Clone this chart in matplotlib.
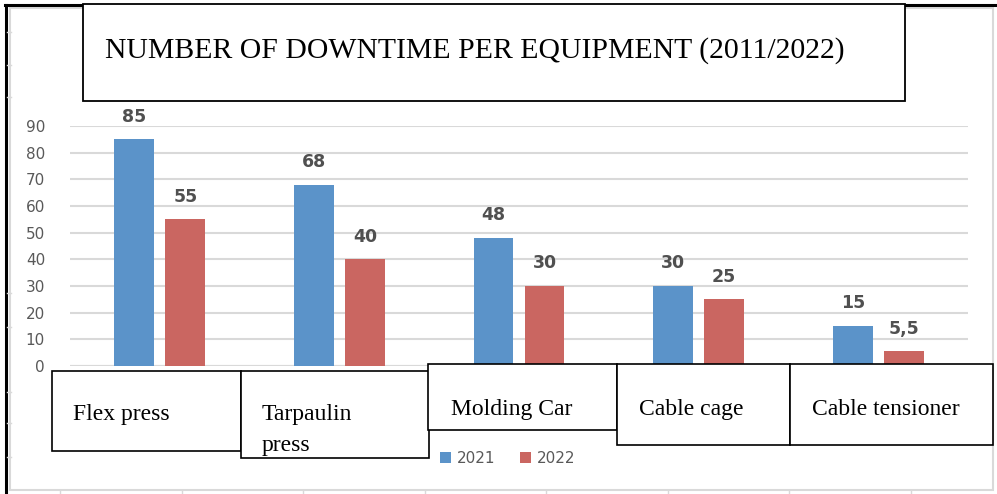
import matplotlib.pyplot as plt
import matplotlib.patches as patches
import numpy as np

equipos = ['Flex press', 'Tarpaulin\npress', 'Molding Car', 'Cable cage', 'Cable tensioner']
v2021 = [85, 68, 48, 30, 15]
v2022 = [55, 40, 30, 25, 5.5]
etiquetas_2021 = ['85', '68', '48', '30', '15']
etiquetas_2022 = ['55', '40', '30', '25', '5,5']
yticks = [0, 10, 20, 30, 40, 50, 60, 70, 80, 90]

W, H = 997, 494
fig = plt.figure(figsize=(W / 100, H / 100), dpi=100)

def fx(x):
    return x / W

def fy(y):
    return 1 - y / H

def caja(x0, y0, x1, y1, color='black', lw=1.2, fill=True, z=10):
    r = patches.Rectangle((fx(x0), fy(y1)), fx(x1) - fx(x0), fy(y0) - fy(y1),
                          transform=fig.transFigure, facecolor='white' if fill else 'none',
                          edgecolor=color, linewidth=lw, zorder=z)
    fig.add_artist(r)
    return r

# marco de fondo (grafico de excel pegado)
caja(10, 8, 993, 490, color='#d9d9d9', lw=1.5, fill=False, z=0)
fig.add_artist(plt.Line2D([fx(6), fx(6)], [fy(5), fy(494)], transform=fig.transFigure,
                          color='black', lw=2.2))
fig.add_artist(plt.Line2D([fx(5), fx(997)], [fy(5), fy(5)], transform=fig.transFigure,
                          color='black', lw=2.2))
for xt in [60, 182, 303, 425, 546, 668, 789, 911]:
    fig.add_artist(plt.Line2D([fx(xt), fx(xt)], [fy(490), fy(494)], transform=fig.transFigure,
                              color='#d9d9d9', lw=1))
for yt in [32, 65, 97, 293, 327, 392, 423, 457]:
    fig.add_artist(plt.Line2D([fx(7), fx(11)], [fy(yt), fy(yt)], transform=fig.transFigure,
                              color='#d9d9d9', lw=1))

ax = fig.add_axes([fx(70), fy(366), fx(968) - fx(70), fy(126) - fy(366)])
x = np.arange(len(equipos))
ancho = 0.222
b1 = ax.bar(x - 0.142, v2021, ancho, color='#5B93C9', label='2021', zorder=3)
b2 = ax.bar(x + 0.142, v2022, ancho, color='#CA6661', label='2022', zorder=3)

for xi, v, t in zip(x - 0.142, v2021, etiquetas_2021):
    ax.text(xi, v + 8.5, t, ha='center', va='center', fontsize=12.5, fontweight='bold',
            family='DejaVu Sans', color='#505050', clip_on=False)
for xi, v, t in zip(x + 0.142, v2022, etiquetas_2022):
    ax.text(xi, v + 8.5, t, ha='center', va='center', fontsize=12.5, fontweight='bold',
            family='DejaVu Sans', color='#505050', clip_on=False)

ax.set_xlim(-0.5, 4.5)
ax.set_ylim(0, 90)
ax.set_yticks(yticks)
ax.set_xticks([])
ax.tick_params(axis='y', length=0, pad=18, labelsize=11, labelcolor='#595959')
ax.grid(axis='y', color='#d9d9d9', linewidth=1.5, zorder=0)
for s in ax.spines.values():
    s.set_visible(False)
ax.axhline(0, color='#d9d9d9', lw=1.5, zorder=2)
ax.set_facecolor('none')

# leyenda
ley = ax.legend(loc='center', bbox_to_anchor=(fx(508), fy(458)), bbox_transform=fig.transFigure,
                ncol=2, frameon=False, handlelength=0.7, handleheight=0.7, handletextpad=0.4,
                columnspacing=1.6, fontsize=11)
for t in ley.get_texts():
    t.set_color('#595959')

# titulo en cuadro
caja(83, 4, 905, 101, lw=1.3, z=10)
fig.text(fx(105), fy(51), 'NUMBER OF DOWNTIME PER EQUIPMENT (2011/2022)', family='Liberation Serif',
         fontsize=21.4, va='center', ha='left', zorder=11)

# cuadros de categorias: (x0, y0, x1, y1, x texto, linea base)
cajas = [(52, 371, 241, 451, 73, 420),
         (241, 371, 429, 458, 262, 420),
         (428, 364, 617, 430, 451, 415),
         (617, 364, 790, 445, 639, 415),
         (790, 364, 993, 445, 812, 415)]
for nombre, (x0, y0, x1, y1, tx, ty) in zip(equipos, cajas):
    r = caja(x0, y0, x1, y1, lw=1.2, z=12)
    lineas = nombre.split('\n')
    for i, linea in enumerate(lineas):
        t = fig.text(fx(tx), fy(ty + 31 * i), linea, family='Liberation Serif', fontsize=17,
                     va='baseline', ha='left', zorder=13)
        t.set_clip_path(r)

fig.savefig('out.png', dpi=100)
